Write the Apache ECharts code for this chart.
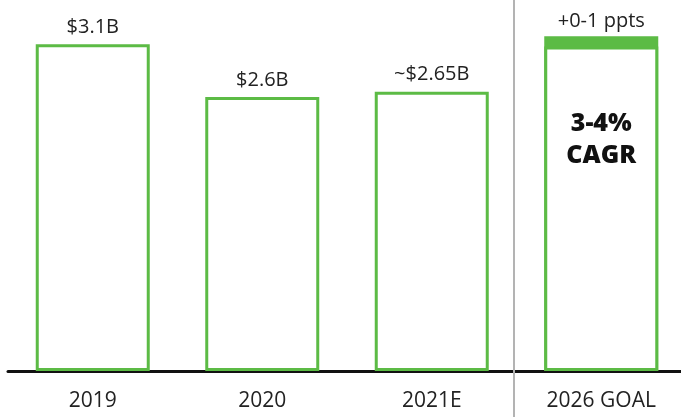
<!DOCTYPE html>
<html>
<head>
<meta charset="utf-8">
<script src="https://cdn.jsdelivr.net/npm/echarts@6/dist/echarts.min.js"></script>
<style>
  html, body { margin: 0; padding: 0; background: #fff; overflow: hidden; }
  /* canvas runs slightly past the right edge so the last column sits flush */
  #chart { width: 690px; height: 419px; }
</style>
</head>
<body>
<div id="chart"></div>
<script>
// Net revenue by year, $B
const categories = ['2019', '2020', '2021E', '2026 GOAL'];
const revenue = [3.1, 2.6, 2.65, null];
const revenueLabels = ['$3.1B', '$2.6B', '~$2.65B', ''];
// 2026 goal: low end of the range and the top of the upside band
const goalLow = [null, null, null, 3.08];
const goalHigh = [null, null, null, 3.175];
const goalUpsideLabel = '+0-1 ppts';
const goalCagrText = ['3-4%', 'CAGR'];

const GREEN = '#5cbb45';
const FONT = 'Open Sans';
const BAR_W = 114;

const chart = echarts.init(document.getElementById('chart'));

const outlinedBar = { color: '#fff', borderColor: GREEN, borderWidth: 3 };

chart.setOption({
  animation: false,
  backgroundColor: '#fff',
  textStyle: { fontFamily: FONT },
  grid: { left: 8, top: 0, width: 678, bottom: 48, containLabel: false },
  xAxis: {
    type: 'category',
    data: categories,
    axisLine: { lineStyle: { color: '#111', width: 3 } },
    axisTick: { show: false },
    axisLabel: { color: '#222', fontSize: 21, margin: 20, fontFamily: FONT }
  },
  yAxis: { type: 'value', min: 0, max: 3.52, show: false },
  series: [
    {
      // filled band: visible only above the goal's low end
      name: 'Goal upside',
      type: 'bar',
      barWidth: BAR_W,
      barGap: '-100%',
      data: goalHigh,
      itemStyle: { color: GREEN, borderColor: GREEN, borderWidth: 3 },
      label: {
        show: true,
        position: 'top',
        distance: 5,
        color: '#222',
        fontSize: 20,
        fontFamily: FONT,
        formatter: () => goalUpsideLabel
      }
    },
    {
      name: 'Revenue',
      type: 'bar',
      barWidth: BAR_W,
      barGap: '-100%',
      data: revenue,
      itemStyle: outlinedBar,
      label: {
        show: true,
        position: 'top',
        distance: 7,
        color: '#222',
        fontSize: 20,
        fontFamily: FONT,
        formatter: p => revenueLabels[p.dataIndex]
      }
    },
    {
      name: 'Goal',
      type: 'bar',
      barWidth: BAR_W,
      barGap: '-100%',
      data: goalLow,
      itemStyle: outlinedBar,
      label: {
        show: true,
        position: 'insideTop',
        distance: 61,
        color: '#111',
        fontSize: 25,
        fontWeight: 800,
        lineHeight: 32,
        fontFamily: FONT,
        formatter: () => goalCagrText.join('\n')
      }
    }
  ]
});

// Divider between actuals and the goal column
const xA = chart.convertToPixel({ xAxisIndex: 0 }, categories[2]);
const xB = chart.convertToPixel({ xAxisIndex: 0 }, categories[3]);
const divX = Math.round((xA + xB) / 2) - 3;
chart.setOption({
  graphic: [{
    type: 'line',
    z: 100,
    shape: { x1: divX, y1: 0, x2: divX, y2: 417 },
    style: { stroke: '#b3b3b3', lineWidth: 2 }
  }]
});
</script>
</body>
</html>
